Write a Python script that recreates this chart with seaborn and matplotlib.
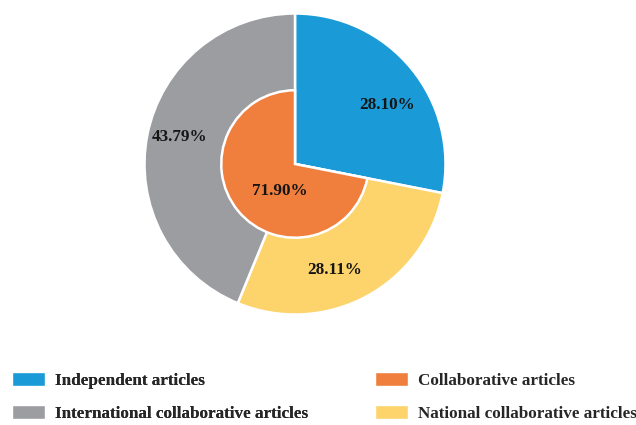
import matplotlib
matplotlib.use("Agg")
import numpy as np
import matplotlib.pyplot as plt
import seaborn as sns
from matplotlib.patches import Patch

# Data
outer_labels = ["Independent articles", "National collaborative articles", "International collaborative articles"]
outer_values = [28.10, 28.11, 43.79]
inner_labels = ["Independent articles", "Collaborative articles"]
inner_values = [28.10, 71.90]

blue = "#1a9bd7"
yellow = "#fdd36b"
gray = "#9b9da1"
orange = "#f07f3d"

sns.set_theme(style="white")
plt.rcParams['font.family'] = ['Liberation Serif', 'DejaVu Serif']
plt.rcParams['font.weight'] = 'bold'

FS = 12.3
W, H = 636, 425
fig = plt.figure(figsize=(W / 100, H / 100), dpi=100)
cx, cy, R = 295, 164, 152
ax = fig.add_axes([(cx - R) / W, 1 - (cy + R) / H, 2 * R / W, 2 * R / H])

tp = dict(fontsize=FS, fontweight="bold", color="#151515")
wedges, texts, autotexts = ax.pie(
    outer_values, colors=[blue, yellow, gray], startangle=90, counterclock=False,
    radius=1.0, autopct="%.2f%%", pctdistance=0.75,
    wedgeprops=dict(edgecolor="white", linewidth=1.8), textprops=tp)

iw, itexts, iauto = ax.pie(
    inner_values, colors=[blue, orange], startangle=90, counterclock=False,
    radius=0.49, autopct="%.2f%%", pctdistance=0.5,
    wedgeprops=dict(edgecolor="white", linewidth=1.8), textprops=tp)
iw[0].set_visible(False)
iauto[0].set_visible(False)

# label placement (radius, angle in degrees)
label_pos = [(0.73, 32.6), (0.75, -69.5), (0.79, 166.8)]
for t, (r, a) in zip(autotexts, label_pos):
    t.set_position((r * np.cos(np.radians(a)), r * np.sin(np.radians(a))))
r, a = 0.21, -119.7
iauto[1].set_position((r * np.cos(np.radians(a)), r * np.sin(np.radians(a))))

ax.set_xlim(-1.01, 1.01)
ax.set_ylim(-1.01, 1.01)
ax.set_aspect("equal")
ax.axis("off")

common = dict(loc="center left", frameon=False, borderpad=0, borderaxespad=0,
              handlelength=1.93, handleheight=0.88, handletextpad=0.58,
              labelspacing=0.95, prop=dict(family="Liberation Serif", weight="bold", size=FS))
leg1 = fig.legend([Patch(facecolor=blue), Patch(facecolor=gray)],
                  ["Independent articles", "International collaborative articles"],
                  bbox_to_anchor=(12 / W, 1 - 397 / H), **common)
fig.add_artist(leg1)
leg2 = fig.legend([Patch(facecolor=orange), Patch(facecolor=yellow)],
                  ["Collaborative articles", "National collaborative articles"],
                  bbox_to_anchor=(375 / W, 1 - 397 / H), **common)

fig.savefig("out.png", dpi=100)
